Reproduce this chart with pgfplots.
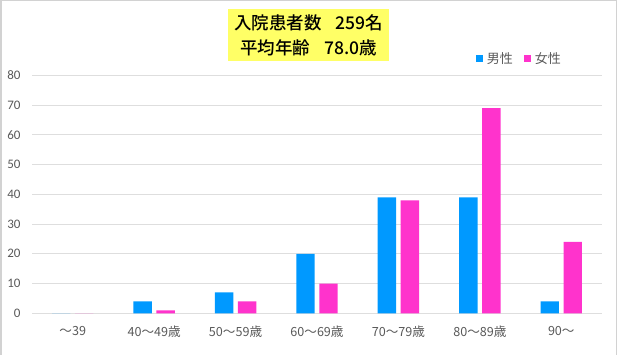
\documentclass[border=0pt]{standalone}
\usepackage{fontspec}
\setmainfont{Noto Sans CJK JP}
\newfontfamily\titlefont{Noto Sans CJK JP Medium}
\newfontfamily\numfont{Carlito}
\usepackage{pgfplots}
\pgfplotsset{compat=1.18}
\definecolor{male}{RGB}{0,153,255}
\definecolor{female}{RGB}{255,51,204}
\definecolor{titley}{RGB}{255,255,102}
\definecolor{gridc}{RGB}{222,222,222}
\definecolor{txt}{RGB}{89,89,89}
\definecolor{frame}{RGB}{210,210,210}
\begin{document}
\begin{tikzpicture}[x=1pt,y=1pt]
\path[use as bounding box] (0,0) rectangle (617,355);
\draw[frame, line width=1.5pt] (0.75,0) -- (0.75,354.25) -- (616.25,354.25) -- (616.25,0);
\node[fill=titley, minimum width=161pt, minimum height=52pt, inner sep=0pt, align=center,
      font=\titlefont\fontsize{17.5}{25}\selectfont] at (308.5,320)
      {入院患者数\hspace{0.8em}259名\\平均年齢\hspace{0.8em}78.0歳};
\begin{axis}[
  at={(32pt,41.7pt)}, anchor=south west,
  scale only axis, width=570pt, height=238pt,
  xmin=-0.5, xmax=6.5, ymin=0, ymax=80,
  ytick={0,10,...,80}, xtick={0,...,6},
  xticklabels={〜39,40〜49歳,50〜59歳,60〜69歳,70〜79歳,80〜89歳,90〜},
  axis line style={draw=none},
  ymajorgrids, grid style={gridc, line width=0.9pt},
  major tick length=0pt,
  xticklabel style={font=\fontsize{12.6}{14}\selectfont, text=txt, yshift=-9.5pt},
  yticklabel style={font=\numfont\fontsize{13}{14}\selectfont, text=txt, xshift=-8pt},
  /pgf/number format/assume math mode=true,
  ybar=4.6pt, bar width=18.4pt,
  legend style={at={(0.855,1)}, anchor=center, yshift=16.5pt, draw=none, fill=none,
     font=\fontsize{13}{15}\selectfont, text=txt,
     /tikz/every even column/.append style={column sep=9pt}},
  legend columns=2,
  legend image code/.code={\fill[#1] (0pt,-3.5pt) rectangle (7pt,3.5pt);},
]
\addplot[fill=male, draw=none] coordinates {(0,0) (1,4) (2,7) (3,20) (4,39) (5,39) (6,4)};
\addplot[fill=female, draw=none] coordinates {(0,0) (1,1) (2,4) (3,10) (4,38) (5,69) (6,24)};
\legend{\hspace{2pt}男性,\hspace{2pt}女性}
\end{axis}
\end{tikzpicture}
\end{document}
